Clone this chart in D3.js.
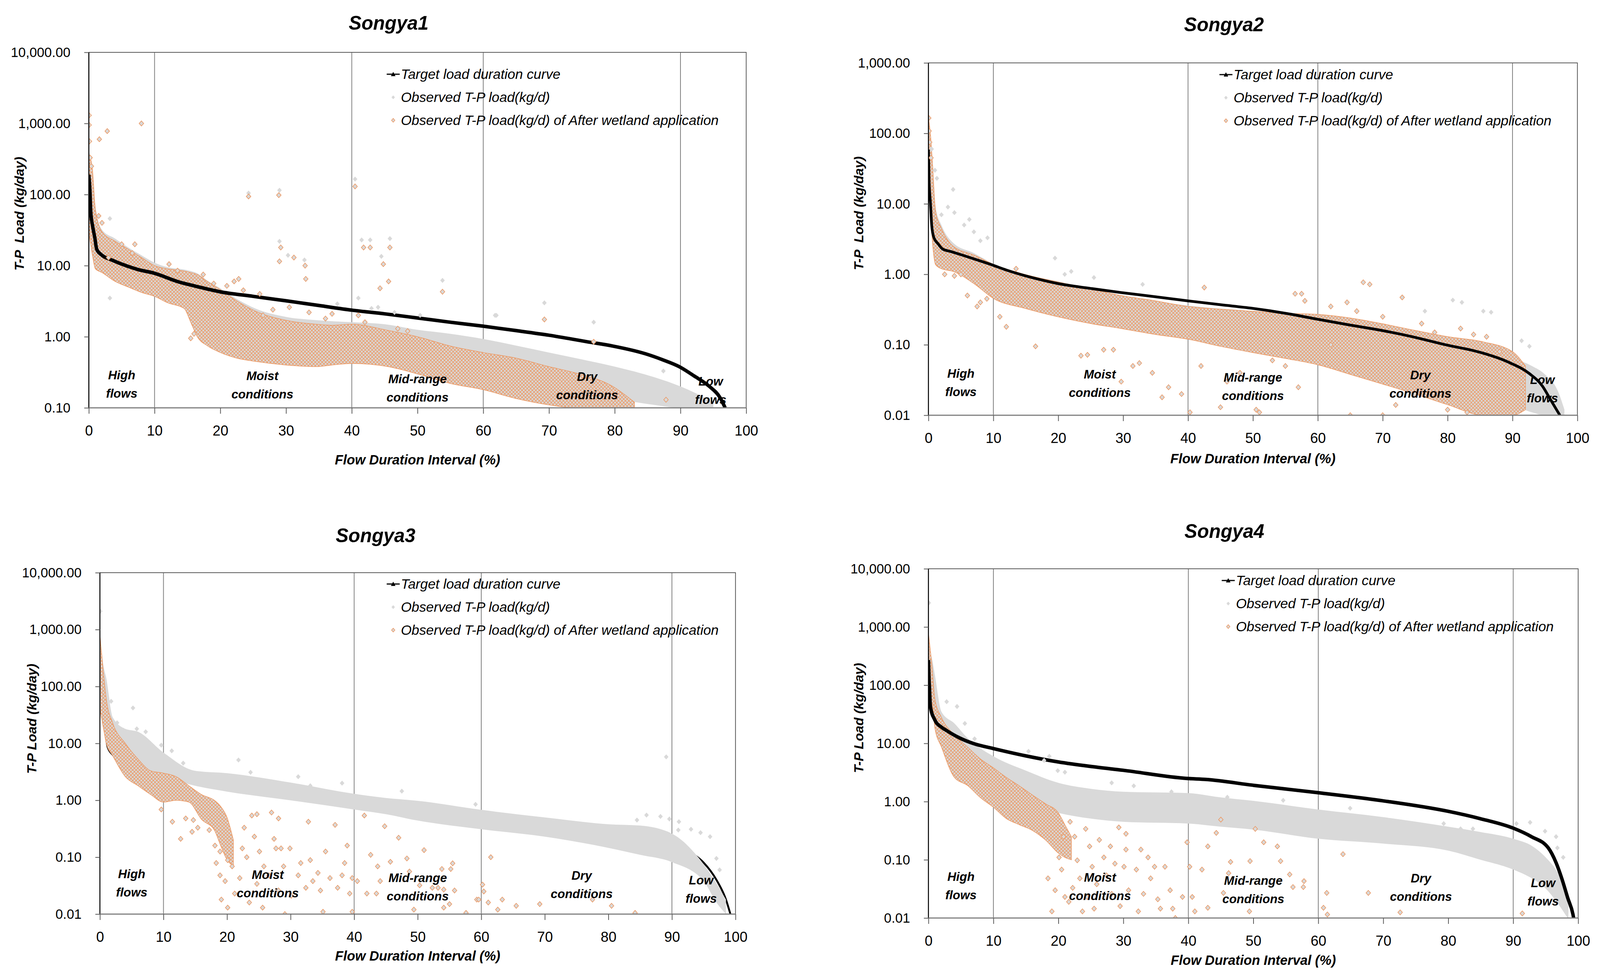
<!DOCTYPE html>
<html>
<head>
<meta charset="utf-8">
<script src="https://cdn.jsdelivr.net/npm/d3@7"></script>
<style>
  html, body { margin: 0; padding: 0; width: 100%; height: 100%; overflow: hidden; background: #fff; }
  svg { display: block; width: 100vw; height: 100vh; }
  text { font-family: "Liberation Sans", Arial, sans-serif; }
</style>
</head>
<body>
<svg id="chart" viewBox="0 0 4179 2501" preserveAspectRatio="none"></svg>
<script>
// ---- shared labels ----
const stations = ["Songya1", "Songya2", "Songya3", "Songya4"];
const legendLabels = ["Target load duration curve", "Observed T-P load(kg/d)", "Observed T-P load(kg/d) of After wetland application"];
const regionNames = [["High", "flows"], ["Moist", "conditions"], ["Mid-range", "conditions"], ["Dry", "conditions"], ["Low", "flows"]];
const regionX = [5, 26.4, 50, 75.8, 94.6];
const regionBounds = [10, 40, 60, 90];
const xTicks = [0, 10, 20, 30, 40, 50, 60, 70, 80, 90, 100];
const yTicks1 = [0.1, 1, 10, 100, 1000, 10000];
const yTicks2 = [0.01, 0.1, 1, 10, 100, 1000];
const yTicks3 = [0.01, 0.1, 1, 10, 100, 1000, 10000];
const yTicks4 = [0.01, 0.1, 1, 10, 100, 1000, 10000];

// ---- Songya1 ----  [x, load]   bands: [x, low, high]
const s1Target = [[0,190],[0.15,120],[0.3,56],[0.6,35],[0.9,25],[1.2,17],[2,14],[3.5,12],[5.9,9.8],[7.5,8.8],[9.8,7.9],[13.7,5.9],[16,5.2],[19.9,4.3],[25,3.7],[30,3.2],[35,2.75],[40.1,2.36],[45,2.1],[50.1,1.83],[55,1.6],[59.9,1.41],[65,1.22],[70,1.05],[75.8,0.85],[79.7,0.74],[84.7,0.575],[87.4,0.47],[89.8,0.38],[92.1,0.28],[94.4,0.2],[96,0.14],[96.8,0.1]];
const s1ObsBand = [[0,40,400],[0.5,16,260],[1,9,70],[2,8,32],[4,6,24],[6,5,18],[8,4.2,14],[10,3.7,11],[12,3.0,9.5],[14.5,2.5,8.8],[15.5,1.6,8.4],[16.5,1.0,7.8],[18,0.75,6.2],[20,0.6,4.8],[22.5,0.5,3.4],[25.3,0.45,2.5],[30,0.42,1.9],[35,0.42,1.7],[40,0.45,1.6],[45,0.45,1.5],[50,0.5,1.25],[55,0.42,1.1],[60,0.36,0.93],[65,0.28,0.75],[70,0.22,0.6],[75,0.17,0.48],[80,0.135,0.38],[86,0.11,0.27],[90,0.1,0.2],[93,0.1,0.15],[95,0.1,0.12]];
const s1WetBand = [[0,30,350],[0.5,15,250],[1,9,60],[2,8,30],[4,6,22],[6,5,17],[8,4.2,13],[10,3.7,10],[12,3.0,9],[14.5,2.5,8.4],[15.5,1.6,8],[16.5,1.0,7.5],[18,0.75,6],[20,0.6,4.6],[22.5,0.5,3.2],[25.3,0.45,2.3],[30,0.40,1.7],[34.6,0.38,1.5],[37,0.40,1.45],[40,0.42,1.5],[45.5,0.38,1.23],[50,0.30,1.0],[55,0.22,0.74],[60,0.18,0.6],[65,0.135,0.5],[70,0.11,0.38],[74,0.1,0.31],[79.7,0.1,0.2],[83,0.1,0.12]];
const s1ObsPts = [[3.2,46],[3.2,3.5],[29,22],[30.3,14],[32.8,12],[40.5,165],[24.3,105],[29,115],[41.5,23],[42.8,23],[45.8,24],[44.5,13.5],[53.8,6.2],[69.3,3.0],[76.8,1.6],[62,2.0],[37.8,2.9],[41,3.5],[43,2.5],[46.5,2.2],[50.4,2.0],[61.8,2.0],[44,2.6],[87.4,0.33]];
const s1WetPts = [[0.05,1300],[0.05,950],[0.1,560],[0.2,330],[0.4,250],[1.6,600],[2.8,780],[8.0,1000],[24.3,94],[28.9,98],[40.5,130],[29,11.5],[29.2,18],[31.2,13],[32.9,10],[33,6.5],[41.8,18],[42.8,18],[44.8,10.5],[45.8,18],[45.6,6],[44.3,4.8],[53.8,4.3],[69.3,1.75],[76.8,0.85],[22.1,6],[22.8,6.5],[26,4.0],[17.4,7.5],[12.2,10.5],[5,20],[7,20],[6.6,15],[3.0,13],[1.5,50],[2.0,40],[13.5,8.5],[21,5.2],[23.5,4.5],[19,5.6],[28,2.4],[30.5,2.6],[33.5,2.2],[37,2.1],[41,2.0],[26.5,2.0],[36,1.8],[47,1.3],[42,1.6],[48.5,1.2],[15.5,0.95],[16,1.1],[87.8,0.13]];

// ---- Songya2 ----
const s2Target = [[0,59],[0.1,21],[0.3,10.5],[0.5,5],[0.8,3.4],[1.5,2.7],[2.2,2.28],[3.5,2.1],[5.4,1.85],[7.5,1.6],[9.7,1.37],[12,1.15],[14.8,0.96],[17,0.85],[19.9,0.74],[25,0.63],[29.7,0.55],[35,0.48],[40,0.42],[45,0.37],[49.8,0.33],[55,0.28],[60,0.23],[65,0.19],[69.8,0.16],[74.6,0.13],[79.7,0.10],[84.8,0.079],[89.5,0.056],[92.6,0.039],[94.6,0.026],[95.8,0.017],[96.9,0.0115],[97.3,0.01]];
const s2ObsBand = [[0,20,100],[0.3,8,85],[0.6,3,45],[1.1,1.37,9],[2,1.2,5],[3.8,1.1,2.8],[7,0.74,2.0],[10.1,0.45,1.4],[14.8,0.33,1.0],[19.9,0.25,0.8],[29.7,0.17,0.5],[40,0.12,0.36],[49.8,0.09,0.3],[60,0.06,0.25],[69.8,0.04,0.19],[75,0.03,0.15],[80,0.022,0.12],[85,0.017,0.09],[90,0.014,0.064],[93,0.011,0.05],[95,0.01,0.038],[97,0.01,0.022],[98,0.01,0.012]];
const s2WetBand = [[0,20,165],[0.3,8,100],[0.6,3,40],[1.1,1.37,7.8],[2,1.2,4.5],[3.8,1.1,2.5],[7,0.74,1.88],[10.1,0.45,1.37],[14.8,0.33,1.0],[19.9,0.25,0.78],[25,0.2,0.62],[29.7,0.17,0.5],[35,0.14,0.42],[40,0.12,0.35],[45,0.095,0.32],[49.8,0.078,0.3],[55,0.064,0.28],[60,0.052,0.27],[65,0.038,0.24],[69.8,0.028,0.2],[75,0.02,0.16],[80.1,0.014,0.13],[85.5,0.01,0.11],[90,0.01,0.08],[92,0.012,0.05]];
const s2ObsPts = [[1.3,23],[3.8,16],[2,7],[4,7.5],[5.5,5],[6.3,6],[9.1,3.3],[19.5,1.7],[21,1.0],[22,1.1],[25.5,0.9],[33,0.72],[80.8,0.43],[82.2,0.4],[85.5,0.3],[86.7,0.29],[91.4,0.114],[92.6,0.095],[76.5,0.3],[3,9],[1,30],[0.5,60],[7,4],[8,3]];
const s2WetPts = [[0.05,165],[0.1,108],[0.2,75],[0.4,45],[42.5,0.65],[67,0.77],[68,0.72],[56.5,0.53],[57.5,0.53],[58,0.42],[73,0.47],[62,0.35],[64.5,0.4],[6,0.5],[7.5,0.35],[11,0.25],[12,0.18],[16.5,0.095],[23.5,0.07],[24.5,0.072],[27,0.085],[28.5,0.085],[31.5,0.05],[32.5,0.055],[34.5,0.04],[37,0.025],[39,0.02],[40.3,0.011],[36,0.018],[29.7,0.03],[45,0.013],[46,0.03],[50.5,0.012],[51,0.011],[55,0.05],[57,0.025],[65,0.01],[66,0.3],[70,0.25],[76,0.2],[78,0.15],[82,0.17],[84,0.14],[86,0.13],[88,0.08],[5,1.0],[4,0.95],[8,0.4],[9,0.45],[13.5,1.2],[2.5,1.0],[72,0.014],[75,0.02],[80,0.012],[83,0.011],[70,0.01],[42,0.05],[48,0.04],[53,0.06],[62,0.1]];

// ---- Songya3 ----
const s3Target = [[0,110],[0.3,41],[0.8,18],[1.2,8.7],[1.9,6.5],[5,4.0],[10,3.0],[12.5,2.7],[20,1.9],[30,1.3],[40,0.95],[50,0.72],[60,0.56],[70,0.42],[80,0.3],[85,0.24],[90,0.17],[93,0.12],[95,0.08],[97,0.04],[98.5,0.018],[99.2,0.01]];
const s3ObsBand = [[0,50,800],[0.5,30,250],[1,20,140],[2,6,29],[4,4.8,18],[6,3.7,16],[10,2.6,6.9],[15,1.8,3.3],[20,1.42,3.0],[30,1.0,2.05],[40,0.69,1.3],[45,0.57,1.1],[50,0.44,0.98],[60,0.31,0.68],[70,0.23,0.5],[80,0.146,0.38],[85,0.11,0.36],[90,0.082,0.26],[95,0.038,0.075],[97,0.016,0.035],[98.5,0.01,0.018]];
const s3WetBand = [[0,40,800],[0.5,20,200],[1,10,60],[2,6.1,23],[4,2.6,10],[6,1.8,5.3],[8,1.26,3.3],[10,0.93,3.0],[12,1.0,2.6],[14,0.93,1.8],[16,0.46,1.26],[18,0.3,1.0],[19,0.16,0.78],[20,0.09,0.5],[21,0.07,0.2]];
const s3ObsPts = [[0.05,2100],[5.2,42],[5.8,18],[7.2,16],[9.65,9.3],[11.3,7.4],[13.1,4.5],[21.8,5.1],[23.7,3.1],[31.2,2.6],[33.1,1.8],[38.1,2.0],[1.76,55],[2.7,23],[3.7,17],[47.5,1.45],[59.1,0.85],[89.1,5.8],[88.2,0.52],[89.6,0.47],[91.1,0.42],[93,0.31],[94.5,0.27],[96,0.23],[97,0.095],[86,0.55],[84.5,0.45],[91,0.3],[97.5,0.06]];
const s3WetPts = [[9.65,0.69],[11.4,0.42],[12.7,0.21],[13.5,0.48],[14.7,0.45],[15.4,0.33],[14.5,0.28],[17.2,0.30],[18.1,0.16],[18.9,0.126],[18.3,0.079],[20.1,0.089],[20.8,0.069],[18.9,0.048],[19.7,0.038],[19.1,0.018],[20.1,0.013],[21.2,0.023],[22,0.043],[22.4,0.143],[23.1,0.1],[22.7,0.33],[23.9,0.54],[24.7,0.57],[24.3,0.23],[25.1,0.126],[25.8,0.069],[24.7,0.034],[23.5,0.016],[25.6,0.013],[26.6,0.048],[27,0.61],[28.1,0.48],[27.4,0.21],[27.7,0.143],[28.5,0.143],[28.9,0.069],[28.1,0.026],[29.1,0.01],[30.1,0.021],[29.9,0.143],[31.2,0.048],[31.6,0.079],[32.4,0.029],[32.8,0.42],[33.1,0.089],[33.5,0.038],[34.3,0.053],[34.7,0.026],[35.1,0.011],[35.5,0.126],[36.2,0.043],[37,0.37],[37.4,0.029],[38.1,0.048],[38.5,0.079],[38.9,0.16],[39.3,0.023],[39.7,0.043],[39.7,0.011],[40.5,0.038],[41.6,0.54],[42,0.023],[42.6,0.11],[43.5,0.023],[43.7,0.069],[44.1,0.038],[44.8,0.35],[47,0.22],[45.7,0.083],[48.3,0.095],[51,0.133],[48.7,0.056],[50.3,0.032],[49.4,0.012],[52.3,0.029],[53.2,0.029],[53.8,0.062],[54.1,0.027],[54.1,0.013],[55,0.015],[55.2,0.062],[55.5,0.078],[55.8,0.026],[57.6,0.0105],[59.3,0.018],[59.6,0.018],[60.2,0.033],[60.4,0.025],[61.1,0.016],[61.5,0.1],[62.6,0.012],[63.3,0.018],[65.5,0.014],[69.2,0.015],[77.5,0.018],[80.5,0.014],[84.2,0.0105]];

// ---- Songya4 ----
const s4Target = [[0,270],[0.1,117],[0.15,93],[0.2,69],[0.3,43],[1,25],[2,19],[2.8,16.6],[4.8,12.4],[7.1,9.8],[9.9,8.2],[15,6.1],[20,4.8],[25.1,4.0],[30,3.45],[39.8,2.5],[42.7,2.4],[50.1,1.9],[60,1.42],[70,1.03],[80,0.68],[84.9,0.51],[90,0.35],[92.8,0.25],[95.4,0.16],[96.6,0.089],[97.5,0.047],[98.4,0.022],[99.2,0.0115],[99.3,0.01]];
const s4ObsBand = [[0,40,400],[0.5,28,300],[1,28,148],[2,9.8,35],[4,5.4,22],[6,3.8,12.4],[10,1.86,6],[15,0.92,3.4],[20,0.64,2.1],[25,0.51,1.66],[30,0.45,1.48],[40,0.42,1.4],[45,0.37,1.18],[50,0.33,1.03],[60,0.23,0.73],[70,0.19,0.54],[80,0.144,0.37],[85,0.1,0.3],[90,0.068,0.23],[93,0.047,0.17],[95,0.032,0.11],[97,0.017,0.056],[98.5,0.0095,0.022]];
const s4WetBand = [[0,50,780],[0.5,51,240],[1,18,57],[2,8.7,28],[4,2.6,14],[6,1.9,8.7],[8,1.17,5.4],[10,0.8,3.8],[12,0.51,2.6],[14,0.4,1.86],[16,0.32,1.3],[18,0.22,0.92],[20,0.13,0.64],[21,0.11,0.4],[22,0.1,0.25]];
const s4ObsPts = [[0.05,2600],[2.8,52],[4.4,43],[5.6,22],[7.1,12],[15.4,7.3],[17.8,5.1],[18.6,6],[31.6,1.86],[28.2,2.1],[21,3.2],[19.9,3.4],[37.4,1.48],[46,1.19],[54.6,1.05],[64.9,0.77],[79.3,0.42],[90.5,0.42],[92.6,0.44],[94.9,0.31],[96.6,0.25],[96.8,0.16],[97.7,0.11],[81.9,0.34],[83.8,0.34]];
const s4WetPts = [[18.4,0.048],[19,0.013],[19.5,0.03],[20.1,0.11],[20.5,0.068],[20.8,0.25],[21,0.023],[21.8,0.45],[21.6,0.019],[22.5,0.25],[22.9,0.098],[23.3,0.048],[22.2,0.033],[23.7,0.013],[24.2,0.34],[24.8,0.17],[25.2,0.076],[24.4,0.023],[25.9,0.038],[26.3,0.22],[25.5,0.0145],[27,0.11],[27.4,0.054],[28.2,0.026],[28,0.17],[28.7,0.086],[29.3,0.36],[29.5,0.016],[30.1,0.076],[30.4,0.15],[30.8,0.03],[30.4,0.28],[32,0.068],[32.3,0.013],[32.7,0.15],[33.1,0.026],[33.8,0.11],[34.2,0.048],[34.8,0.076],[35.3,0.021],[35.7,0.0145],[36.4,0.076],[37.2,0.03],[37.6,0.0145],[38,0.01],[39.1,0.023],[39.8,0.2],[40.2,0.076],[40.6,0.023],[41,0.013],[42.1,0.068],[45,0.49],[44.3,0.29],[50.3,0.34],[43,0.17],[51.6,0.2],[53.7,0.17],[46.5,0.092],[49.5,0.095],[54.2,0.095],[46.2,0.059],[55.6,0.056],[56.1,0.034],[57.8,0.043],[57.7,0.034],[45.4,0.027],[49.4,0.013],[61.3,0.027],[60.8,0.015],[61.4,0.0115],[63.8,0.125],[67.7,0.027],[72.6,0.0125],[91.4,0.012],[43,0.015]];

const panels = [
  { name: stations[0], yDomain: [0.1, 10000], yTicks: yTicks1, target: s1Target, obsBand: s1ObsBand, wetBand: s1WetBand, obsPts: s1ObsPts, wetPts: s1WetPts },
  { name: stations[1], yDomain: [0.01, 1000], yTicks: yTicks2, target: s2Target, obsBand: s2ObsBand, wetBand: s2WetBand, obsPts: s2ObsPts, wetPts: s2WetPts },
  { name: stations[2], yDomain: [0.01, 10000], yTicks: yTicks3, target: s3Target, obsBand: s3ObsBand, wetBand: s3WetBand, obsPts: s3ObsPts, wetPts: s3WetPts },
  { name: stations[3], yDomain: [0.01, 10000], yTicks: yTicks4, target: s4Target, obsBand: s4ObsBand, wetBand: s4WetBand, obsPts: s4ObsPts, wetPts: s4WetPts }
];

// positions of each panel on the page
const layouts = [
  { left: 232, right: 1949, top: 134, bottom: 1044, titleX: 1015, titleY: 76, xTitleY: 1189, yTitleX: 62, yTitleY: 547, legendX: 1047, legendY: 190, regionBase: 1018, lineW: 9, below: false, yTitle: "T-P  Load (kg/day)" },
  { left: 2425, right: 4120, top: 161, bottom: 1063, titleX: 3197, titleY: 80, xTitleY: 1186, yTitleX: 2255, yTitleY: 546, legendX: 3222, legendY: 191, regionBase: 1014, lineW: 7, below: false, yTitle: "T-P  Load (kg/day)" },
  { left: 261, right: 1921, top: 1466, bottom: 2340, titleX: 981, titleY: 1388, xTitleY: 2459, yTitleX: 95, yTitleY: 1840, legendX: 1047, legendY: 1495, regionBase: 2295, lineW: 5, below: true, yTitle: "T-P Load (kg/day)" },
  { left: 2425, right: 4122, top: 1456, bottom: 2350, titleX: 3198, titleY: 1377, xTitleY: 2470, yTitleX: 2255, yTitleY: 1838, legendX: 3228, legendY: 1486, regionBase: 2302, lineW: 9, below: false, yTitle: "T-P Load (kg/day)" }
];
const regionDy = [0, 2, 10, 4, 16];

const FONT = '"Liberation Sans", Arial, sans-serif';
const GRAY = "#d9d9d9";
const ORANGE = "#eb9a66";
const diamond = "M0,-6.5L6,0L0,6.5L-6,0Z";
const fmt = d3.format(",.2f");

const svg = d3.select("#chart");
svg.append("rect").attr("width", 4179).attr("height", 2501).attr("fill", "#fff");
const defs = svg.append("defs");

// texture for the dense after-wetland cloud: gray diamonds with orange edge
const pat = defs.append("pattern").attr("id", "wetTex")
  .attr("patternUnits", "userSpaceOnUse").attr("width", 9).attr("height", 9);
pat.append("rect").attr("width", 9).attr("height", 9).attr("fill", GRAY);
pat.append("path").attr("d", "M4.5,0L9,4.5L4.5,9L0,4.5Z")
  .attr("fill", "none").attr("stroke", ORANGE).attr("stroke-width", 1.6);

panels.forEach((p, i) => {
  const L = layouts[i];
  const x = d3.scaleLinear().domain([0, 100]).range([L.left, L.right]);
  const y = d3.scaleLog().domain(p.yDomain).range([L.bottom, L.top]);
  const g = svg.append("g");

  defs.append("clipPath").attr("id", "clip" + i).append("rect")
    .attr("x", L.left).attr("y", L.top)
    .attr("width", L.right - L.left).attr("height", L.bottom - L.top);
  const plot = g.append("g").attr("clip-path", `url(#clip${i})`);

  // flow regime boundaries
  plot.selectAll(".grid").data(regionBounds).join("line")
    .attr("x1", d => x(d)).attr("x2", d => x(d))
    .attr("y1", L.top).attr("y2", L.bottom)
    .attr("stroke", "#7f7f7f").attr("stroke-width", 2);

  const line = d3.line().x(d => x(d[0])).y(d => y(d[1])).curve(d3.curveMonotoneX);
  const area = d3.area().x(d => x(d[0])).y0(d => y(d[1])).y1(d => y(d[2])).curve(d3.curveMonotoneX);

  const drawTarget = () => plot.append("path").datum(p.target)
    .attr("d", line).attr("fill", "none").attr("stroke", "#000")
    .attr("stroke-width", L.lineW).attr("stroke-linejoin", "round");

  if (L.below) drawTarget();

  plot.append("path").datum(p.obsBand).attr("d", area).attr("fill", GRAY);
  plot.append("path").datum(p.wetBand).attr("d", area)
    .attr("fill", "url(#wetTex)").attr("stroke", ORANGE).attr("stroke-width", 1.5);

  if (!L.below) drawTarget();

  plot.selectAll(".obs").data(p.obsPts).join("path")
    .attr("d", diamond)
    .attr("transform", d => `translate(${x(d[0])},${y(d[1])})`)
    .attr("fill", GRAY);
  plot.selectAll(".wet").data(p.wetPts).join("path")
    .attr("d", diamond)
    .attr("transform", d => `translate(${x(d[0])},${y(d[1])})`)
    .attr("fill", GRAY).attr("stroke", ORANGE).attr("stroke-width", 1.6);

  // frame
  g.append("rect").attr("x", L.left).attr("y", L.top)
    .attr("width", L.right - L.left).attr("height", L.bottom - L.top)
    .attr("fill", "none").attr("stroke", "#595959").attr("stroke-width", 2);
  g.append("line").attr("x1", L.left).attr("x2", L.left).attr("y1", L.top).attr("y2", L.bottom)
    .attr("stroke", "#000").attr("stroke-width", 2.5);
  g.append("line").attr("x1", L.left).attr("x2", L.right).attr("y1", L.bottom).attr("y2", L.bottom)
    .attr("stroke", "#7f7f7f").attr("stroke-width", 3);

  // axes
  g.append("g").attr("transform", `translate(${L.left},0)`)
    .call(d3.axisLeft(y).tickValues(p.yTicks).tickFormat(fmt).tickSize(12).tickPadding(36))
    .attr("font-size", 35).attr("font-family", FONT)
    .call(a => {
      a.select(".domain").remove();
      a.selectAll("line").attr("stroke", "#595959").attr("stroke-width", 2);
      a.selectAll("text").attr("fill", "#000");
    });
  g.append("g").attr("transform", `translate(0,${L.bottom})`)
    .call(d3.axisBottom(x).tickValues(xTicks).tickSize(15).tickPadding(30))
    .attr("font-size", 37).attr("font-family", FONT)
    .call(a => {
      a.select(".domain").remove();
      a.selectAll("line").attr("stroke", "#595959").attr("stroke-width", 2);
      a.selectAll("text").attr("fill", "#000");
    });

  // titles
  g.append("text").attr("x", L.titleX).attr("y", L.titleY)
    .attr("text-anchor", "middle").attr("font-size", 50)
    .attr("font-weight", "bold").attr("font-style", "italic").text(p.name);
  g.append("text").attr("x", (L.left + L.right) / 2).attr("y", L.xTitleY)
    .attr("text-anchor", "middle").attr("font-size", 35)
    .attr("font-weight", "bold").attr("font-style", "italic")
    .text("Flow Duration Interval (%)");
  g.append("text")
    .attr("transform", `translate(${L.yTitleX},${L.yTitleY}) rotate(-90)`)
    .attr("text-anchor", "middle").attr("font-size", 34)
    .attr("font-weight", "bold").attr("font-style", "italic")
    .style("white-space", "pre").text(L.yTitle);

  // region labels
  regionNames.forEach((lines, k) => {
    const t = g.append("text").attr("text-anchor", "middle")
      .attr("font-size", 32).attr("font-weight", "bold").attr("font-style", "italic");
    t.append("tspan").attr("x", x(regionX[k])).attr("y", L.regionBase + regionDy[k] - 47).text(lines[0]);
    t.append("tspan").attr("x", x(regionX[k])).attr("y", L.regionBase + regionDy[k]).text(lines[1]);
  });

  // legend
  const lg = g.append("g");
  legendLabels.forEach((lab, k) => {
    const ly = L.legendY + k * 59;
    const mx = L.legendX - 20;
    if (k === 0) {
      lg.append("line").attr("x1", L.legendX - 37).attr("x2", L.legendX - 3)
        .attr("y1", ly).attr("y2", ly).attr("stroke", "#000").attr("stroke-width", 3);
      lg.append("path").attr("d", "M0,-6L6,5L-6,5Z")
        .attr("transform", `translate(${mx},${ly})`).attr("fill", "#000");
    } else {
      lg.append("path").attr("d", diamond)
        .attr("transform", `translate(${mx},${ly}) scale(0.75)`)
        .attr("fill", GRAY)
        .attr("stroke", k === 2 ? ORANGE : "none").attr("stroke-width", 2);
    }
    lg.append("text").attr("x", L.legendX).attr("y", ly + 12)
      .attr("font-size", 36).attr("font-style", "italic").text(lab);
  });
});
</script>
</body>
</html>
